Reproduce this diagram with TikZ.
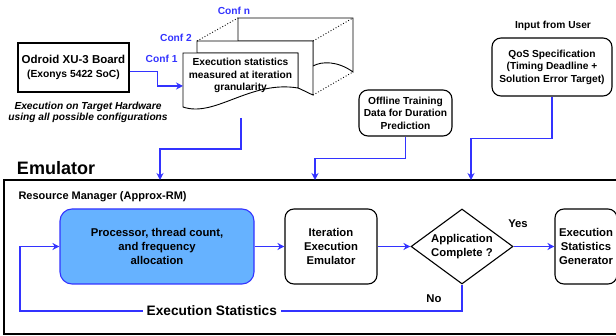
\documentclass[tikz,border=0pt]{standalone}
\usepackage{fontspec}
\setmainfont{Liberation Sans}
\usetikzlibrary{arrows.meta,positioning,shapes.geometric}
\definecolor{flowblue}{RGB}{51,51,255}
\definecolor{allocblue}{RGB}{102,178,255}

\begin{document}
\begin{tikzpicture}[x=1pt,y=-1pt,
   font=\bfseries\fontsize{11.3}{14}\selectfont,
   small/.style={font=\bfseries\fontsize{10.2}{12.5}\selectfont},
   box/.style={draw,line width=1.1pt,rounded corners=9pt,align=center,inner sep=0pt},
   flow/.style={draw=flowblue,line width=1.3pt,-{Stealth[length=7pt,width=7pt]}},
   conf/.style={small,text=flowblue},
   sheet/.style={draw,fill=white,line width=0.9pt}]
   \useasboundingbox (0,0) rectangle (616,336);

   % configuration sheets, back to front
   \draw[sheet] (238,41) -- (238,18) -- (353,18) -- (353,72)
      .. controls (338,61) and (322,61) .. (313,66) -- (313,41) -- cycle;
   \draw[sheet] (197,53) -- (197,41) -- (313,41) -- (313,95)
      .. controls (306,92) and (301,89) .. (298,88) -- (298,53) -- cycle;
   \draw[sheet] (183,53) -- (298,53) -- (298,88)
      .. controls (250,80) and (215,118) .. (183,107) -- cycle;
   \draw[dotted,line width=0.9pt] (197,41) -- (238,18) (313,41) -- (353,18) (313,95) -- (353,72);

   \node[small,align=center] (stats) at (240.5,75.5) {Execution statistics\\measured at iteration\\granularity};
   \node[conf,anchor=east] (conf_1) at (181,59) {Conf 1};
   \node[conf] (conf_2) at (176,38) {Conf 2};
   \node[conf] (conf_n) at (234,11) {Conf n};

   \node[box,rounded corners=0pt,minimum width=111pt,minimum height=49pt] (odroid) at (73.5,67.5)
      {\fontsize{11.5}{14}\selectfont Odroid XU-3 Board\\\fontsize{10.3}{13}\selectfont(Exonys 5422 SoC)};
   \node[small,align=center,font=\bfseries\itshape\fontsize{10.2}{11.5}\selectfont] (target) at (88,112.5)
      {Execution on Target Hardware\\using all possible configurations};

   \node[box,small,minimum width=93pt,minimum height=46pt] (train) at (405.5,113)
      {Offline Training\\Data for Duration\\Prediction};
   \node[box,small,minimum width=120pt,minimum height=58pt] (qos) at (552,67)
      {QoS Specification\\(Timing Deadline +\\Solution Error Target)};
   \node[small] (user) at (553,26) {Input from User};

   % emulator frame
   \draw[line width=2pt] (4,180) rectangle (624,334);
   \node[font=\bfseries\fontsize{18}{20}\selectfont] (emu) at (56,168) {Emulator};
   \node[anchor=west,font=\bfseries\fontsize{11}{13}\selectfont] (rm) at (15,197) {Resource Manager (Approx-RM)};

   \node[box,draw=flowblue,fill=allocblue,rounded corners=12pt,minimum width=194pt,minimum height=75pt] (alloc) at (157,246.5)
      {Processor, thread count,\\and frequency\\allocation};
   \node[box,minimum width=92pt,minimum height=75pt] (iter) at (331,246.5)
      {Iteration\\Execution\\Emulator};
   \node[diamond,draw,line width=1.1pt,align=center,inner sep=0pt,aspect=1.36,
      minimum width=102pt,minimum height=75pt] (done) at (462,246.5) {Application\\Complete ?};
   \node[box,minimum width=62pt,minimum height=75pt] (gen) at (586,246.5)
      {Execution\\Statistics\\Generator};
   \node (yes) at (518,224) {Yes};
   \node (no) at (434,299) {No};

   \coordinate (doc_out) at (241,118);
   \coordinate (doc_in) at (183,86);
   \coordinate (emu_in1) at (160,180);
   \coordinate (emu_in2) at (315,180);
   \coordinate (emu_in3) at (471,180);
   \coordinate (fb_corner) at (20,311);

   \draw[flow] ([yshift=-4pt]odroid.east) -- ++(28,0) |- (doc_in);
   \draw[flow] (doc_out) -- ++(0,31) -| (emu_in1);
   \draw[flow] (train.south) -- ++(0,22) -| (emu_in2);
   \draw[flow] (qos.south) -- ++(0,42) -| (emu_in3);
   \draw[flow] (alloc.east) -- (iter.west);
   \draw[flow] (iter.east) -- (done.west);
   \draw[flow] (done.east) -- (gen.west);
   \draw[flow] (done.south) |- (fb_corner)
      node[pos=0.783,fill=white,inner xsep=4pt,font=\bfseries\fontsize{13.7}{16}\selectfont] (fb) {Execution Statistics}
      |- (alloc.west);
\end{tikzpicture}
\end{document}
